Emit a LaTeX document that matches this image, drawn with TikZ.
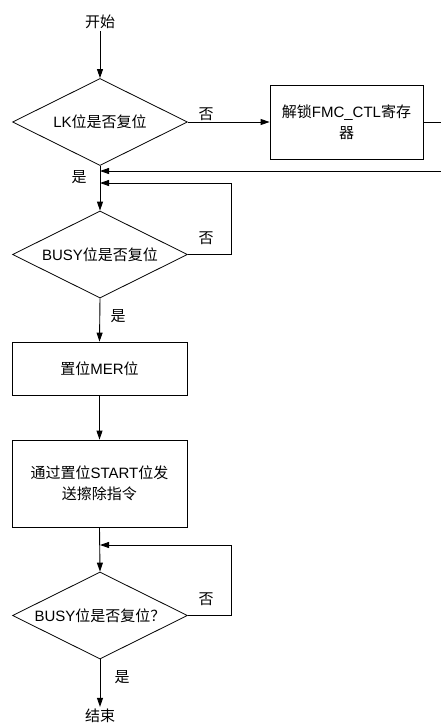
\documentclass[tikz,border=0pt]{standalone}
\usepackage{fontspec}
\setmainfont{Liberation Sans}
\newfontfamily\cjk{Noto Sans CJK SC}
\usetikzlibrary{shapes.geometric,arrows.meta}
\begin{document}
\begin{tikzpicture}[x=1pt,y=-1pt,
  every node/.style={font=\fontsize{15}{21}\selectfont},
  decision/.style={draw,diamond,aspect=2,inner sep=0pt,minimum width=175pt,minimum height=87pt,line width=0.8pt},
  procbox/.style={draw,rectangle,inner sep=2pt,line width=0.8pt,align=center},
  term/.style={inner sep=2pt},
  lbl/.style={inner sep=0pt},
  flow/.style={line width=0.9pt,-{Triangle[length=9pt,width=6pt]}},
  plain/.style={line width=0.9pt}]
\useasboundingbox (0,0) rectangle (441,724);
% nodes
\node[term] (start) at (100,22) {\cjk 开始};
\node[decision] (d1) at (100,122) {LK{\cjk 位是否复位}};
\node[procbox,minimum width=153pt,minimum height=74pt] (b1) at (346.5,122) {{\cjk 解锁}FMC\_CTL{\cjk 寄存}\\{\cjk 器}};
\node[decision] (d2) at (100,254.5) {BUSY{\cjk 位是否复位}};
\node[procbox,minimum width=175pt,minimum height=53pt] (b2) at (99.5,368.5) {{\cjk 置位}MER{\cjk 位}};
\node[procbox,minimum width=175pt,minimum height=87pt] (b3) at (99.5,483.5) {{\cjk 通过置位}START{\cjk 位发}\\{\cjk 送擦除指令}};
\node[decision] (d3) at (100,615.5) {BUSY{\cjk 位是否复位？}};
\node[term] (end) at (100,716) {\cjk 结束};
% junctions
\coordinate (j1) at (100,171);
\coordinate (j2) at (100,183);
\coordinate (j3) at (100,545);
\coordinate (r1) at (445,122);
\coordinate (l2) at (231,254.5);
\coordinate (l3) at (231,615.5);
% labels
\node[lbl] (n1) at (206,114) {\cjk 否};
\node[lbl] (y1) at (79,177) {\cjk 是};
\node[lbl] (n2) at (206,238) {\cjk 否};
\node[lbl] (y2) at (118,316) {\cjk 是};
\node[lbl] (n3) at (206,599) {\cjk 否};
\node[lbl] (y3) at (122,677) {\cjk 是};
% connectors
\draw[flow] (start) -- (d1.north);
\draw[flow] (d1.east) -- (b1.west);
\draw[plain] (b1.east) -- (r1);
\draw[flow] (r1) |- (j1);
\draw[flow] (d1.south) -- (d2.north);
\draw[flow] (d2.east) -- (l2) |- (j2);
\draw[flow] (d2.south) -- (b2.north);
\draw[flow] (b2.south) -- (b3.north);
\draw[flow] (b3.south) -- (d3.north);
\draw[flow] (d3.east) -- (l3) |- (j3);
\draw[flow] (d3.south) -- (end.north);
\end{tikzpicture}
\end{document}
